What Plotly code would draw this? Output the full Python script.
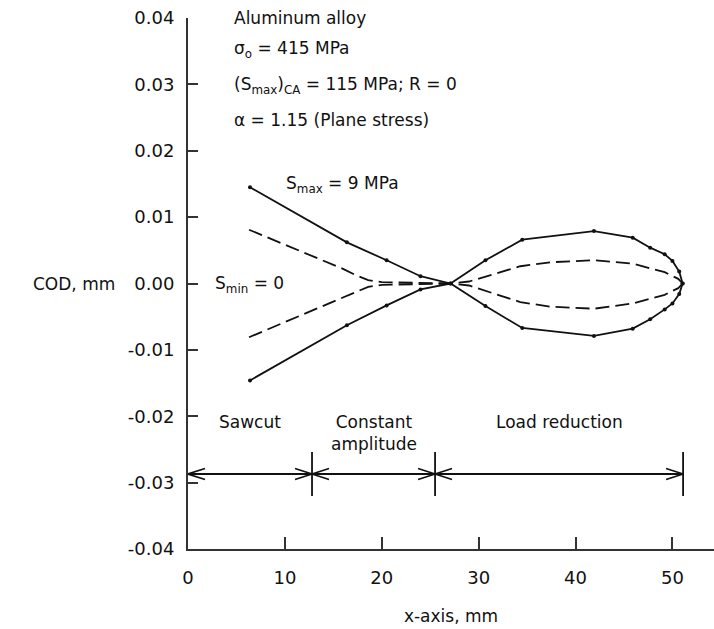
import plotly.graph_objects as go

# ---- data ----
x_smax = [6.4, 16.4, 20.5, 24.0, 27.1, 30.7, 34.5, 41.9, 45.9, 47.7, 49.2, 50.0, 50.7, 51.05]
cod_smax_upper = [0.0145, 0.0062, 0.0035, 0.0011, 0.0, 0.0035, 0.0066, 0.0079, 0.0069, 0.0054, 0.0044, 0.0034, 0.0018, 0.0]
cod_smax_lower = [-0.0146, -0.0063, -0.0033, -0.0009, 0.0, -0.0034, -0.0067, -0.0079, -0.0068, -0.0054, -0.0039, -0.0030, -0.0016, 0.0]

x_smin = [6.3, 16.0, 17.4, 18.6, 20.0, 24.0, 27.1, 29.0, 31.0, 34.3, 37.4, 41.9, 45.9, 49.2, 50.6, 51.05]
cod_smin_upper = [0.0081, 0.0022, 0.0012, 0.0005, 0.0002, 0.0001, 0.0, 0.0003, 0.0012, 0.0026, 0.0032, 0.0035, 0.0030, 0.0017, 0.0007, 0.0]
cod_smin_lower = [-0.0081, -0.0021, -0.0012, -0.0005, -0.0002, -0.0001, 0.0, -0.0003, -0.0012, -0.0028, -0.0035, -0.0038, -0.0030, -0.0017, -0.0007, 0.0]

phase_bounds = [0.0, 12.8, 25.5, 51.1]
phase_labels = ["Sawcut", "Constant<br>amplitude", "Load reduction"]
phase_arrow_y = -0.0287
phase_text_y = -0.0208

x_ticks = [0, 10, 20, 30, 40, 50]
y_ticks = [-0.04, -0.03, -0.02, -0.01, 0.0, 0.01, 0.02, 0.03, 0.04]
y_ticktext = ["-0.04", "-0.03", "-0.02", "-0.01", "0.00", "0.01", "0.02", "0.03", "0.04"]

info_lines = [
    "Aluminum alloy",
    "σ<sub>o</sub> = 415 MPa",
    "(S<sub>max</sub>)<sub>CA</sub> = 115 MPa; R = 0",
    "α = 1.15 (Plane stress)",
]
info_y = [0.0400, 0.0352, 0.0299, 0.0246]

# ---- style ----
FONT = "DejaVu Sans, Arial, sans-serif"
FS = 17
INK = "#111111"
W, H = 714, 629
ML, MR, MT, MB = 188, 0, 18, 80
XMAX = 54.29
px_x = (W - ML - MR) / XMAX          # pixels per x unit
px_y = (H - MT - MB) / 0.08          # pixels per y unit

fig = go.Figure()

for yv in (cod_smax_upper, cod_smax_lower):
    fig.add_trace(go.Scatter(x=x_smax, y=yv, mode="lines+markers",
                             line=dict(color=INK, width=1.8),
                             marker=dict(color=INK, size=4), showlegend=False, hoverinfo="skip"))
for yv in (cod_smin_upper, cod_smin_lower):
    fig.add_trace(go.Scatter(x=x_smin, y=yv, mode="lines",
                             line=dict(color=INK, width=1.8, dash="14px,6px"),
                             showlegend=False, hoverinfo="skip"))

# phase dimension line with open arrowheads and bars
fig.add_trace(go.Scatter(x=[phase_bounds[0], phase_bounds[-1]], y=[phase_arrow_y] * 2,
                         mode="lines", line=dict(color=INK, width=1.8),
                         showlegend=False, hoverinfo="skip"))
bar_half = 22 / px_y
for b in phase_bounds[1:]:
    fig.add_trace(go.Scatter(x=[b, b], y=[phase_arrow_y - bar_half, phase_arrow_y + bar_half],
                             mode="lines", line=dict(color=INK, width=1.8),
                             showlegend=False, hoverinfo="skip"))
hl = 17 / px_x
hh = 5.5 / px_y
for a, b in zip(phase_bounds[:-1], phase_bounds[1:]):
    for tip, d in ((a, 1), (b, -1)):
        fig.add_trace(go.Scatter(x=[tip + d * hl, tip, tip + d * hl],
                                 y=[phase_arrow_y + hh, phase_arrow_y, phase_arrow_y - hh],
                                 mode="lines", line=dict(color=INK, width=1.8),
                                 showlegend=False, hoverinfo="skip"))

ann = []
for t, yv in zip(info_lines, info_y):
    ann.append(dict(x=4.57, y=yv, text=t, xanchor="left", yanchor="middle", showarrow=False))
ann.append(dict(x=9.87, y=0.0149, text="S<sub>max</sub> = 9 MPa", xanchor="left", yanchor="middle", showarrow=False))
ann.append(dict(x=2.6, y=-0.0002, text="S<sub>min</sub> = 0", xanchor="left", yanchor="middle", showarrow=False))
ann.append(dict(x=(117 - ML) / (W - ML - MR), xref="paper", y=0.0, text="COD, mm",
                xanchor="right", yanchor="middle", showarrow=False))
for a, b, t in zip(phase_bounds[:-1], phase_bounds[1:], phase_labels):
    ann.append(dict(x=(a + b) / 2, y=phase_text_y, text=t, xanchor="center", yanchor="top",
                    yshift=12, showarrow=False))

fig.update_layout(
    width=W, height=H,
    margin=dict(l=ML, r=MR, t=MT, b=MB, pad=0),
    paper_bgcolor="white", plot_bgcolor="white",
    font=dict(family=FONT, size=FS, color=INK),
    annotations=ann,
    showlegend=False,
    xaxis=dict(range=[0, XMAX], tickvals=x_ticks, ticks="inside", ticklen=12, tickwidth=2,
               tickcolor="#333", showline=True, linewidth=2, linecolor="#333",
               showgrid=False, zeroline=False, tickfont=dict(size=18),
               ticklabelstandoff=11,
               title=dict(text="x-axis, mm", standoff=24, font=dict(size=FS))),
    yaxis=dict(range=[-0.04, 0.04], tickvals=y_ticks, ticktext=y_ticktext, ticks="inside",
               ticklen=10, tickwidth=2, tickcolor="#333", showline=True, linewidth=2,
               linecolor="#333", showgrid=False, zeroline=False, tickfont=dict(size=18),
               ticklabelstandoff=8),
)

fig.write_html("out.html")
